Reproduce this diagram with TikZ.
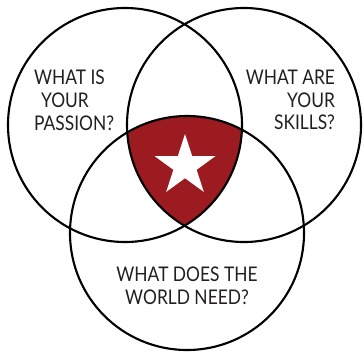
\documentclass[tikz,border=0pt]{standalone}
\usepackage{fontspec}
\setmainfont{Lato}[FakeStretch=0.86]
\usetikzlibrary{shapes.geometric}
\definecolor{heartred}{HTML}{9B1B20}
\definecolor{inkgray}{HTML}{231F20}

\begin{document}
\begin{tikzpicture}[x=0.02cm, y=0.02cm, line width=1.2pt,
    question/.style={inner sep=0pt, text=inkgray, font=\fontsize{11.5}{13}\selectfont}]
    \useasboundingbox (0,0) rectangle (364,352);
    % centres of the three circles
    \coordinate (passion) at (125,227);
    \coordinate (skills) at (244,227);
    \coordinate (need) at (187,119);
    % fill the part shared by all three
    \begin{scope}
        \clip (passion) circle[radius=117];
        \clip (skills) circle[radius=117];
        \fill[heartred] (need) circle[radius=117];
    \end{scope}
    % draw circles
    \foreach \c in {passion, skills, need}
        \draw[color=black] (\c) circle[radius=117];
    % draw star
    \node[star, star points=5, star point ratio=2.618, fill=white,
        minimum size=1.28cm, inner sep=0pt] (star) at (185,186) {};
    % draw questions
    \node[question, anchor=west, align=left] (passiontext) at (33,252)
        {WHAT IS\\\hspace{4pt}YOUR\\PASSION?};
    \node[question, anchor=east, align=right] (skillstext) at (336,252)
        {WHAT ARE\\YOUR\\SKILLS?};
    \node[question, align=center] (needtext) at (187,66)
        {WHAT DOES THE\\WORLD NEED?};
\end{tikzpicture}
\end{document}
